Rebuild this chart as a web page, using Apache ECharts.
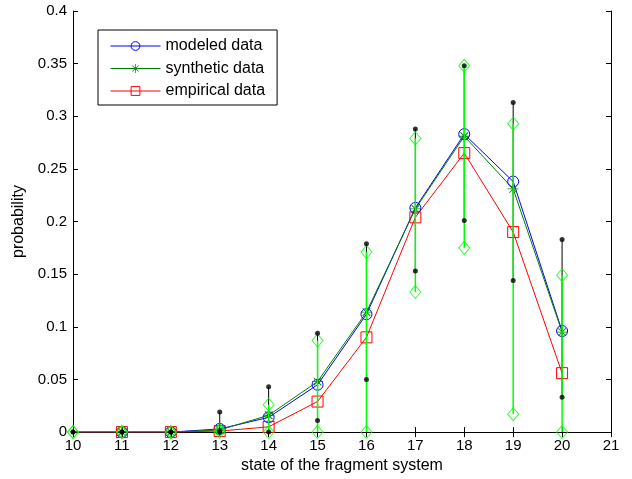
<!DOCTYPE html>
<html>
<head>
<meta charset="utf-8">
<script src="https://cdn.jsdelivr.net/npm/echarts@6/dist/echarts.min.js"></script>
<style>
  html, body { margin: 0; padding: 0; background: #fff; }
  #chart { width: 632px; height: 479px; }
</style>
</head>
<body>
<div id="chart"></div>
<script>
// States of the fragment system and probability per state
const states = [10, 11, 12, 13, 14, 15, 16, 17, 18, 19, 20];
const modeled   = [0, 0, 0, 0.003, 0.014, 0.045, 0.112, 0.213, 0.283, 0.238, 0.096];
const synthetic = [0, 0, 0, 0.002, 0.016, 0.048, 0.114, 0.212, 0.281, 0.231, 0.095];
const empirical = [0, 0, 0, 0.001, 0.005, 0.029, 0.090, 0.204, 0.265, 0.190, 0.056];

// Outer range (black, dot ends) and inner range (green, diamond ends)
const outerLow  = [0, 0, 0, 0, 0, 0.011, 0.050, 0.153, 0.201, 0.144, 0.033];
const outerHigh = [0, 0, 0, 0.019, 0.043, 0.094, 0.179, 0.288, 0.348, 0.313, 0.183];
const innerLow  = [0, 0, 0, 0, 0, 0, 0, 0.133, 0.175, 0.017, 0];
const innerHigh = [0, 0, 0, 0.002, 0.026, 0.087, 0.171, 0.279, 0.348, 0.293, 0.149];

const xTicks = { min: 10, max: 21, interval: 1 };
const yTicks = { min: 0, max: 0.4, interval: 0.05 };

const FONT = 'Liberation Sans, Arial, sans-serif';
const TICK_FS = 15;
const TEXT_FS = 16;

// eight-pointed asterisk marker
const STAR = 'path://M0 9.2L20 9.2L20 10.8L0 10.8Z M9.2 0L10.8 0L10.8 20L9.2 20Z ' +
  'M2.43 3.57L3.57 2.43L17.57 16.43L16.43 17.57Z M16.43 2.43L17.57 3.57L3.57 17.57L2.43 16.43Z';

const pairs = (ys) => states.map((x, i) => [x, ys[i]]);
// the first state is drawn as a plain line end, without a marker
const lineData = (ys) => states.map((x, i) => i === 0 ? { value: [x, ys[i]], symbol: 'none' } : [x, ys[i]]);
const ranges = (lo, hi) => states.map((x, i) => [x, lo[i], hi[i]]);

function rangeRenderer(color, width) {
  return function (params, api) {
    const a = api.coord([api.value(0), api.value(1)]);
    const b = api.coord([api.value(0), api.value(2)]);
    return {
      type: 'line',
      shape: { x1: a[0], y1: a[1], x2: b[0], y2: b[1] },
      style: { stroke: color, lineWidth: width }
    };
  };
}

const axisCommon = {
  axisLine: { show: true, lineStyle: { color: '#000', width: 1 } },
  axisTick: { show: true, inside: true, length: 5, lineStyle: { color: '#000' } },
  splitLine: { show: false }
};

const option = {
  animation: false,
  backgroundColor: '#fff',
  textStyle: { fontFamily: FONT },
  grid: { left: 73, right: 21, top: 11, bottom: 45, containLabel: false },
  legend: {
    data: ['modeled data', 'synthetic data', 'empirical data'],
    orient: 'vertical',
    left: 98,
    top: 30,
    padding: [8, 12, 6, 12],
    itemGap: 6.5,
    itemWidth: 50,
    itemHeight: 11,
    borderColor: '#000',
    borderWidth: 1,
    backgroundColor: '#fff',
    lineStyle: { width: 1 },
    itemStyle: { borderWidth: 1 },
    textStyle: { fontFamily: FONT, fontSize: TEXT_FS, color: '#000' }
  },
  xAxis: [
    Object.assign({
      type: 'value', position: 'bottom', ...xTicks,
      name: 'state of the fragment system', nameLocation: 'middle', nameGap: 25,
      nameTextStyle: { fontFamily: FONT, fontSize: TEXT_FS, color: '#000' },
      axisLabel: { color: '#000', fontFamily: FONT, fontSize: TICK_FS, margin: 6 }
    }, axisCommon),
    Object.assign({
      type: 'value', position: 'top', ...xTicks, axisLabel: { show: false }
    }, axisCommon)
  ],
  yAxis: [
    Object.assign({
      type: 'value', position: 'left', ...yTicks,
      name: 'probability', nameLocation: 'middle', nameGap: 45,
      nameTextStyle: { fontFamily: FONT, fontSize: TEXT_FS, color: '#000' },
      axisLabel: { color: '#000', fontFamily: FONT, fontSize: TICK_FS, margin: 6 }
    }, axisCommon),
    Object.assign({
      type: 'value', position: 'right', ...yTicks, axisLabel: { show: false }
    }, axisCommon)
  ],
  series: [
    {
      name: 'modeled data', type: 'line', data: lineData(modeled), z: 3,
      symbol: 'circle', symbolSize: 11, showAllSymbol: true,
      lineStyle: { color: '#0000ff', width: 1 },
      itemStyle: { color: 'rgba(0,0,0,0)', borderColor: '#0000ff', borderWidth: 1 }
    },
    {
      name: 'synthetic data', type: 'line', data: lineData(synthetic), z: 3,
      symbol: STAR, symbolSize: 11, showAllSymbol: true,
      lineStyle: { color: '#008000', width: 1 },
      itemStyle: { color: '#008000' }
    },
    {
      name: 'empirical data', type: 'line', data: lineData(empirical), z: 3,
      symbol: 'rect', symbolSize: 11, showAllSymbol: true,
      lineStyle: { color: '#ff0000', width: 1 },
      itemStyle: { color: 'rgba(0,0,0,0)', borderColor: '#ff0000', borderWidth: 1 }
    },
    {
      name: 'outer range', type: 'custom', z: 4, data: ranges(outerLow, outerHigh),
      renderItem: rangeRenderer('#000', 1), silent: true
    },
    {
      name: 'inner range', type: 'custom', z: 5, data: ranges(innerLow, innerHigh),
      renderItem: rangeRenderer('#00ff00', 1.5), silent: true
    },
    {
      name: 'inner ends', type: 'scatter', z: 6,
      data: pairs(innerLow).concat(pairs(innerHigh)),
      symbol: 'diamond', symbolSize: [11, 13],
      itemStyle: { color: 'rgba(0,0,0,0)', borderColor: '#00ff00', borderWidth: 1 }
    },
    {
      name: 'outer ends', type: 'scatter', z: 7,
      data: pairs(outerLow).concat(pairs(outerHigh)),
      symbol: 'circle', symbolSize: 5,
      itemStyle: { color: '#000' }
    }
  ]
};

const chart = echarts.init(document.getElementById('chart'), null, { renderer: 'canvas' });
chart.setOption(option);
</script>
</body>
</html>
